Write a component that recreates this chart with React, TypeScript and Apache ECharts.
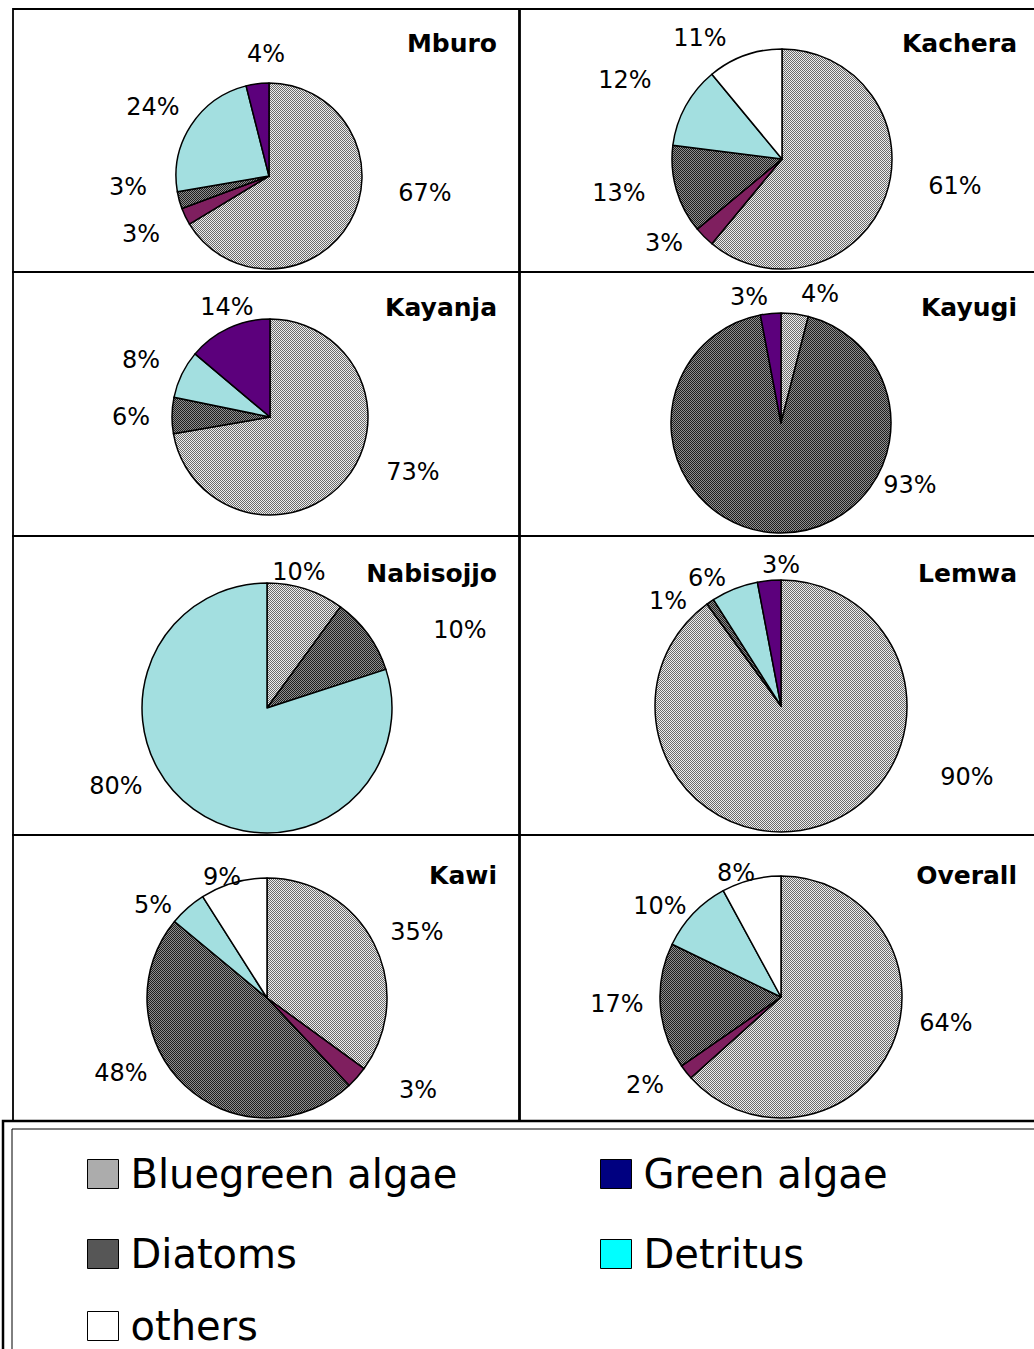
import React, { useEffect, useRef } from 'react';
import * as echarts from 'echarts';

// ---- data ----
const categories = ['Bluegreen algae', 'Green algae', 'Diatoms', 'Detritus', 'others'];
const siteNames = ['Mburo', 'Kachera', 'Kayanja', 'Kayugi', 'Nabisojjo', 'Lemwa', 'Kawi', 'Overall'];
const mburo = [67, 3, 3, 24, 4];
const kachera = [61, 3, 13, 12, 11];
const kayanja = [73, 0, 6, 8, 14];
const kayugi = [4, 0, 93, 0, 3];
const nabisojjo = [10, 0, 10, 80, 0];
const lemwa = [90, 0, 1, 6, 3];
const kawi = [35, 3, 48, 5, 9];
const overall = [64, 2, 17, 10, 8];
const siteValues = [mburo, kachera, kayanja, kayugi, nabisojjo, lemwa, kawi, overall];

// ---- layout / style ----
const W = 1034;
const H = 1349;
const colX = [
  [13, 519],
  [520, 1040],
];
const rowY = [
  [9, 272],
  [272, 536],
  [536, 835],
  [835, 1121],
];
const pieGeom = [
  { cx: 269, cy: 176, r: 93 },
  { cx: 782, cy: 159, r: 110 },
  { cx: 270, cy: 417, r: 98 },
  { cx: 781, cy: 423, r: 110 },
  { cx: 267, cy: 708, r: 125 },
  { cx: 781, cy: 706, r: 126 },
  { cx: 267, cy: 998, r: 120 },
  { cx: 781, cy: 997, r: 121 },
];
// label centre offsets from the pie centre, one per category (null = no slice)
const labelOffsets: (number[] | null)[][] = [
  [[156, 17], [-128, 58], [-141, 11], [-116, -69], [-3, -122]],
  [[173, 27], [-118, 84], [-163, 34], [-157, -79], [-82, -121]],
  [[143, 55], null, [-139, 0], [-129, -57], [-43, -110]],
  [[39, -129], null, [129, 62], null, [-32, -126]],
  [[32, -136], null, [193, -78], [-151, 78], null],
  [[186, 71], null, [-113, -105], [-74, -128], [0, -141]],
  [[150, -66], [151, 92], [-146, 75], [-114, -93], [-45, -121]],
  [[165, 26], [-136, 88], [-164, 7], [-121, -91], [-45, -124]],
];
const titleCenterY = [45, 45, 309, 309, 575, 575, 877, 877];
const titleRightEdge = [497, 1017];
const violetOthers = [true, false, true, true, false, true, false, false];
const legendSlots = [
  { left: 87, cy: 1175 },
  { left: 600, cy: 1175 },
  { left: 87, cy: 1255 },
  { left: 600, cy: 1255 },
  { left: 87, cy: 1327 },
];
const legendOrder = ['Bluegreen algae', 'Green algae', 'Diatoms', 'Detritus', 'others'];

const FONT = 'DejaVu Sans';

function makePattern(bg: string, fg: string) {
  const c = document.createElement('canvas');
  c.width = 2;
  c.height = 2;
  const ctx = c.getContext('2d') as CanvasRenderingContext2D;
  ctx.fillStyle = bg;
  ctx.fillRect(0, 0, 2, 2);
  ctx.fillStyle = fg;
  ctx.fillRect(0, 0, 1, 1);
  ctx.fillRect(1, 1, 1, 1);
  return { image: c.toDataURL(), repeat: 'repeat', imageWidth: 2, imageHeight: 2 };
}

export default function App() {
  const ref = useRef<HTMLDivElement>(null);

  useEffect(() => {
    if (!ref.current) return;
    const chart = echarts.init(ref.current, null, { renderer: 'svg', width: W, height: H });

    const bluegreenFill = makePattern('#ededed', '#6a6a6a');
    const diatomFill = makePattern('#8e8e8e', '#1e1e1e');
    const pieColors: any = {
      'Bluegreen algae': bluegreenFill,
      'Green algae': '#7f1f5f',
      Diatoms: diatomFill,
      Detritus: '#a3dfe0',
      others: '#ffffff',
    };
    const legendColors: any = {
      'Bluegreen algae': bluegreenFill,
      'Green algae': '#000080',
      Diatoms: diatomFill,
      Detritus: '#00ffff',
      others: '#ffffff',
    };

    const series: any[] = [];
    // legend visual provider (invisible)
    series.push({
      type: 'pie',
      name: 'legendKey',
      center: [-200, -200],
      radius: 0,
      silent: true,
      label: { show: false },
      labelLine: { show: false },
      itemStyle: { borderColor: '#000', borderWidth: 1 },
      data: categories.map((c) => ({ name: c, value: 1, itemStyle: { color: legendColors[c] } })),
    });

    siteNames.forEach((site, i) => {
      const vals = siteValues[i];
      const g = pieGeom[i];
      const catIdx: number[] = [];
      const data: any[] = [];
      categories.forEach((c, k) => {
        if (vals[k] > 0) {
          catIdx.push(k);
          data.push({
            name: c,
            value: vals[k],
            itemStyle: {
              color: c === 'others' && violetOthers[i] ? '#5c007c' : pieColors[c],
            },
          });
        }
      });
      series.push({
        type: 'pie',
        name: site,
        center: [g.cx, g.cy],
        radius: g.r,
        startAngle: 90,
        clockwise: true,
        avoidLabelOverlap: false,
        itemStyle: { borderColor: '#000', borderWidth: 1.5 },
        label: {
          show: true,
          position: 'outside',
          formatter: '{c}%',
          color: '#000',
          fontFamily: FONT,
          fontSize: 24,
        },
        labelLine: { show: false, length: 18, length2: 6 },
        labelLayout: (p: any) => {
          const off = labelOffsets[i][catIdx[p.dataIndex]];
          if (!off) return {};
          return { x: g.cx + off[0], y: g.cy + off[1], align: 'center', verticalAlign: 'middle' };
        },
        emphasis: { disabled: true },
        data,
      });
    });

    const titles = siteNames.map((site, i) => ({
      text: site,
      right: W - titleRightEdge[i % 2],
      top: titleCenterY[i] - 14,
      padding: 0,
      textStyle: { fontFamily: FONT, fontSize: 25, fontWeight: 'bold', color: '#000' },
    }));

    const panels: any[] = [];
    rowY.forEach((ry) => {
      colX.forEach((cx) => {
        panels.push({
          type: 'rect',
          shape: { x: cx[0], y: ry[0], width: cx[1] - cx[0], height: ry[1] - ry[0] },
          style: { fill: 'none', stroke: '#000', lineWidth: 1.8 },
          silent: true,
        });
      });
    });
    panels.push({
      type: 'rect',
      shape: { x: 3, y: 1121, width: 1100, height: 300 },
      style: { fill: 'none', stroke: '#000', lineWidth: 2.5 },
      silent: true,
    });
    panels.push({
      type: 'rect',
      shape: { x: 12, y: 1129, width: 1100, height: 300 },
      style: { fill: 'none', stroke: '#000', lineWidth: 1 },
      silent: true,
    });

    const legends = legendOrder.map((name, i) => ({
      data: [name],
      left: legendSlots[i].left,
      top: legendSlots[i].cy - 21,
      padding: 0,
      icon: 'rect',
      itemWidth: 31,
      itemHeight: 29,
      selectedMode: false,
      itemStyle: { borderColor: '#000', borderWidth: 1 },
      textStyle: { fontFamily: FONT, fontSize: 40, color: '#000', padding: [0, 0, 0, 7] },
    }));

    chart.setOption({
      animation: false,
      backgroundColor: '#fff',
      title: titles,
      legend: legends,
      graphic: { elements: panels },
      series,
    });

    return () => chart.dispose();
  }, []);

  return (
    <div
      ref={ref}
      style={{ position: 'absolute', left: 0, top: 0, width: W, height: H, background: '#fff' }}
    />
  );
}
